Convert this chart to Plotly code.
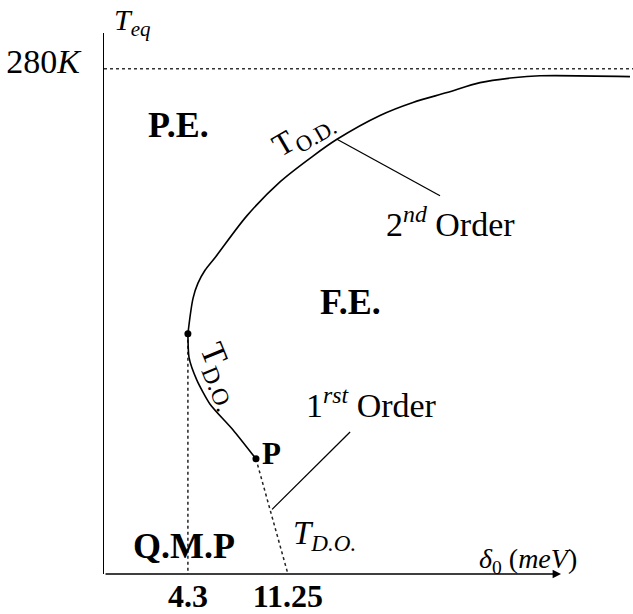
import plotly.graph_objects as go

# Phase boundary T_O.D. (second order) from the multicritical point up to saturation
delta_second = [4.30, 4.66, 5.00, 5.49, 6.25, 8.41, 10.70, 12.99, 14.66, 17.65,
                19.94, 22.31, 24.60, 26.89, 28.77, 35.02]
T_second = [133.1, 152.9, 161.2, 168.3, 176.0, 198.6, 217.3, 231.6, 240.9, 254.1,
            261.3, 266.8, 272.3, 275.0, 276.1, 275.6]

# Phase boundary T_D.O. (first order) from the multicritical point down to P
delta_first = [4.30, 4.38, 4.93, 5.84, 7.44, 9.03]
T_first = [133.1, 119.9, 107.3, 94.1, 79.8, 63.8]

# Metastable continuation of T_D.O. from P to the axis
delta_meta = [9.03, 11.25]
T_meta = [63.8, 0.0]

# Quantum multicritical point projection
delta_qmp = [4.30, 4.30]
T_qmp = [133.1, 0.0]

# Special points
delta_points = [4.30, 9.03]
T_points = [133.1, 63.8]

# Saturation temperature
T_sat = 280
T_sat_label = "280<i>K</i>"

# Axis ticks
x_ticks = [4.3, 11.25]
x_tick_labels = ["<b>4.3</b>", "<b>11.25</b>"]

# Leader lines for the transition-order labels
lead_second_x = [14.66, 21.82]
lead_second_y = [240.9, 209.6]
lead_first_x = [10.15, 15.57]
lead_first_y = [35.8, 78.7]

X_RANGE = [-1.53, 35.23]
Y_RANGE = [0, 299.8]
SERIF = "Liberation Serif, Times New Roman, serif"


def serif(size):
    return dict(family=SERIF, size=size, color="black")


fig = go.Figure()

# horizontal 280 K reference
fig.add_trace(go.Scatter(x=[X_RANGE[0], X_RANGE[1]], y=[T_sat, T_sat], mode="lines",
                         line=dict(color="#333", width=1.3, dash="dot"),
                         hoverinfo="skip"))
fig.add_trace(go.Scatter(x=delta_qmp, y=T_qmp, mode="lines",
                         line=dict(color="#222", width=1.5, dash="dot")))
fig.add_trace(go.Scatter(x=delta_meta, y=T_meta, mode="lines",
                         line=dict(color="#222", width=1.5, dash="dot")))
fig.add_trace(go.Scatter(x=delta_second, y=T_second, mode="lines",
                         line=dict(color="black", width=1.6, shape="spline", smoothing=0.9)))
fig.add_trace(go.Scatter(x=delta_first, y=T_first, mode="lines",
                         line=dict(color="black", width=1.6, shape="spline", smoothing=0.6)))
fig.add_trace(go.Scatter(x=lead_second_x, y=lead_second_y, mode="lines",
                         line=dict(color="black", width=1.3)))
fig.add_trace(go.Scatter(x=lead_first_x, y=lead_first_y, mode="lines",
                         line=dict(color="black", width=1.3)))
fig.add_trace(go.Scatter(x=delta_points, y=T_points, mode="markers",
                         marker=dict(color="black", size=7)))

annotations = [
    # x axis with arrow head
    dict(x=30.23, y=0, ax=X_RANGE[0], ay=0, xref="x", yref="y", axref="x", ayref="y",
         showarrow=True, arrowhead=2, arrowsize=1.2, arrowwidth=1.4, arrowcolor="black",
         text=""),
    dict(x=27.9, y=7.5, xref="x", yref="y", showarrow=False,
         text="<i>δ</i><sub>0</sub> (<i>meV</i>)", font=serif(28)),
    dict(x=0.015, y=1.06, xref="paper", yref="paper", showarrow=False,
         text="<i>T</i><sub><i>eq</i></sub>", font=serif(30), xanchor="left"),
    dict(x=3.68, y=248.6, xref="x", yref="y", showarrow=False,
         text="<b>P.E.</b>", font=serif(36)),
    dict(x=15.57, y=150.7, xref="x", yref="y", showarrow=False,
         text="<b>F.E.</b>", font=serif(36)),
    dict(x=4.0, y=15.4, xref="x", yref="y", showarrow=False,
         text="<b>Q.M.P</b>", font=serif(36)),
    dict(x=10.1, y=66.6, xref="x", yref="y", showarrow=False,
         text="<b>P</b>", font=serif(31)),
    dict(x=12.3, y=243.5, xref="x", yref="y", showarrow=False, textangle=-30,
         text="T<sub>O.D.</sub>", font=serif(32)),
    dict(x=6.6, y=110.0, xref="x", yref="y", showarrow=False, textangle=68,
         text="T<sub>D.O.</sub>", font=serif(34)),
    dict(x=13.8, y=21.5, xref="x", yref="y", showarrow=False,
         text="<i>T</i><sub><i>D.O.</i></sub>", font=serif(33)),
    dict(x=22.55, y=195.0, xref="x", yref="y", showarrow=False,
         text="2<sup><i>nd</i></sup> Order", font=serif(34)),
    dict(x=17.05, y=95.0, xref="x", yref="y", showarrow=False,
         text="1<sup><i>rst</i></sup> Order", font=serif(34)),
]

fig.update_layout(
    width=633, height=614,
    margin=dict(l=104, r=0, t=33, b=36),
    paper_bgcolor="white", plot_bgcolor="white",
    showlegend=False,
    font=dict(family=SERIF, color="black"),
    annotations=annotations,
    xaxis=dict(range=X_RANGE, showgrid=False, zeroline=False, showline=False,
               tickvals=x_ticks, ticktext=x_tick_labels, ticks="",
               tickfont=serif(32)),
    yaxis=dict(range=Y_RANGE, showgrid=False, zeroline=False, showline=True,
               linecolor="black", linewidth=1.4, mirror=False,
               tickvals=[T_sat], ticktext=[T_sat_label], ticks="",
               ticklabelstandoff=16, ticklabelshift=-8, tickfont=serif(34)),
)

fig.write_html("out.html")
